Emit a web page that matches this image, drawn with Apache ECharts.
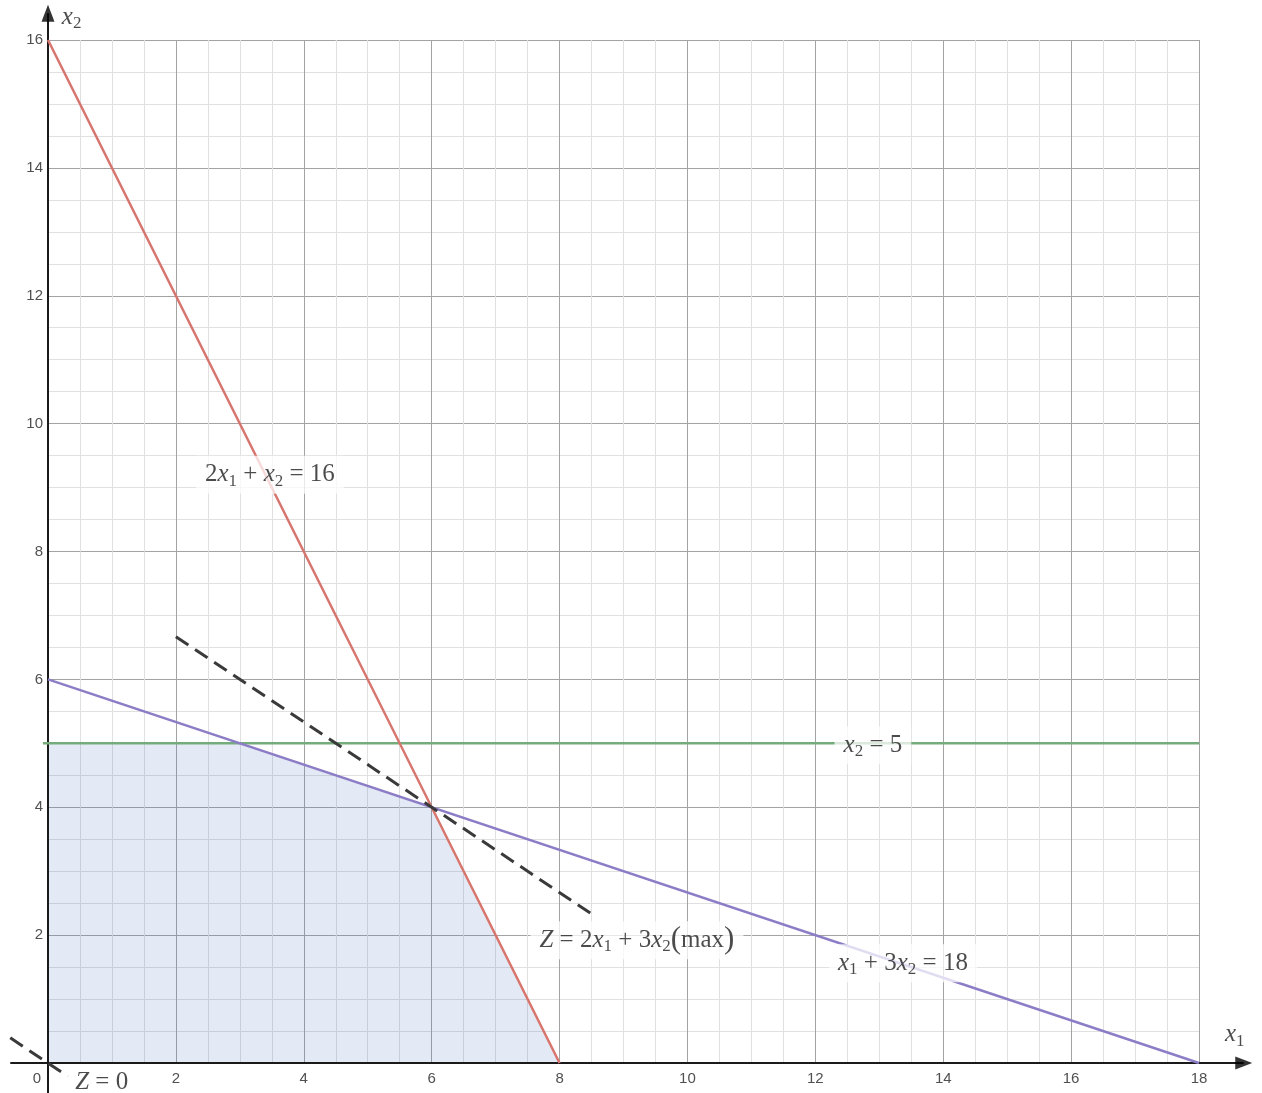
<!DOCTYPE html>
<html>
<head>
<meta charset="utf-8">
<script src="https://cdn.jsdelivr.net/npm/echarts@6/dist/echarts.min.js"></script>
<style>
html,body{margin:0;padding:0;background:#fff;}
#chart{width:1262px;height:1093px;}
</style>
</head>
<body>
<div id="chart"></div>
<script>
// ---- data ----
const xRange = [0, 18];
const yRange = [0, 16];
const tickStep = 2;
const constraint1 = [[0, 16], [8, 0]];          // 2x1 + x2 = 16
const constraint2 = [[0, 6], [18, 0]];          // x1 + 3x2 = 18
const constraint3 = [[-0.08, 5], [18, 5]];      // x2 = 5
const objectiveMax = [[2, 6.667], [8.55, 2.3]]; // 2x1 + 3x2 = 24
const objectiveZero = [[-0.59, 0.393], [0.31, -0.207]]; // 2x1 + 3x2 = 0
const feasible = [[0, 5], [3, 5], [6, 4], [8, 0]];

// ---- layout ----
const W = 1262, H = 1093;
const G = {left: 48, top: 40, width: 1151, height: 1023};
const kx = G.width / (xRange[1] - xRange[0]);
const ky = G.height / (yRange[1] - yRange[0]);
// full-canvas overlay grid with identical scale
const ovX = [xRange[0] - G.left / kx, xRange[0] + (W - G.left) / kx];
const ovY = [yRange[0] - (H - G.top - G.height) / ky, yRange[0] + (G.top + G.height) / ky];

const chart = echarts.init(document.getElementById('chart'));
const serif = "'Liberation Serif','DejaVu Serif',serif";
const txt = '#1e1e1e';
const rich = {
  n: {fontFamily: serif, fontSize: 25, color: txt, lineHeight: 30},
  i: {fontFamily: serif, fontSize: 25, fontStyle: 'italic', color: txt, lineHeight: 30},
  s: {fontFamily: serif, fontSize: 17, color: txt, lineHeight: 10, verticalAlign: 'bottom'},
  p: {fontFamily: serif, fontSize: 31, color: txt, lineHeight: 30}
};
function lbl(pos, text, bg) {
  return {
    value: pos,
    label: {
      show: true, position: 'inside', formatter: text, rich: rich,
      backgroundColor: bg ? 'rgba(255,255,255,0.92)' : 'transparent',
      padding: bg ? [4, 9, 4, 9] : 0
    }
  };
}
const tickFont = {fontFamily: "'Liberation Sans',Arial,sans-serif", fontSize: 15, color: '#505050'};

const option = {
  animation: false,
  backgroundColor: '#fff',
  grid: [
    {left: G.left, top: G.top, width: G.width, height: G.height, containLabel: false},
    {left: 0, top: 0, width: W, height: H, containLabel: false}
  ],
  xAxis: [{
    type: 'value', gridIndex: 0, min: xRange[0], max: xRange[1], interval: tickStep,
    axisLine: {show: false}, axisTick: {show: false},
    splitLine: {show: true, lineStyle: {color: '#a3a3a3', width: 1}},
    minorTick: {show: false, splitNumber: 4},
    minorSplitLine: {show: true, lineStyle: {color: '#e0e0e0', width: 1}},
    axisLabel: Object.assign({
      margin: 8,
      formatter: v => v === 0 ? '{z|0}' : String(v),
      rich: {z: Object.assign({padding: [0, 22, 0, 0]}, tickFont)}
    }, tickFont)
  }, {
    type: 'value', gridIndex: 1, min: ovX[0], max: ovX[1], show: false
  }],
  yAxis: [{
    type: 'value', gridIndex: 0, min: yRange[0], max: yRange[1], interval: tickStep,
    axisLine: {show: false}, axisTick: {show: false},
    splitLine: {show: true, lineStyle: {color: '#a3a3a3', width: 1}},
    minorTick: {show: false, splitNumber: 4},
    minorSplitLine: {show: true, lineStyle: {color: '#e0e0e0', width: 1}},
    axisLabel: Object.assign({
      margin: 5,
      formatter: v => v === 0 ? '' : String(v)
    }, tickFont)
  }, {
    type: 'value', gridIndex: 1, min: ovY[0], max: ovY[1], show: false
  }],
  series: [
    {
      type: 'line', data: feasible, symbol: 'none', z: 1,
      lineStyle: {width: 0, opacity: 0},
      areaStyle: {color: 'rgba(80,110,195,0.22)', origin: 'start'}
    },
    // axes lines (overlay grid)
    {
      type: 'line', xAxisIndex: 1, yAxisIndex: 1, data: [[-0.59, 0], [18.7, 0]], symbol: 'none', z: 3,
      lineStyle: {color: '#1a1a1a', width: 2}
    },
    {
      type: 'line', xAxisIndex: 1, yAxisIndex: 1, data: [[0, ovY[0]], [0, 16.42]], symbol: 'none', z: 3,
      lineStyle: {color: '#1a1a1a', width: 2}
    },
    {
      type: 'scatter', xAxisIndex: 1, yAxisIndex: 1, z: 3, symbol: 'triangle', symbolSize: [13, 17],
      itemStyle: {color: '#000'},
      data: [{value: [18.7, 0], symbolRotate: -90}, {value: [0, 16.42], symbolRotate: 0}]
    },
    {
      type: 'line', data: constraint3, symbol: 'none', xAxisIndex: 1, yAxisIndex: 1, z: 4,
      lineStyle: {color: '#74ad7b', width: 2.5}
    },
    {
      type: 'line', data: constraint2, symbol: 'none', z: 4,
      lineStyle: {color: '#8d7cc6', width: 2.5}
    },
    {
      type: 'line', data: constraint1, symbol: 'none', z: 4,
      lineStyle: {color: '#d8766e', width: 2.5}
    },
    {
      type: 'line', data: objectiveMax, symbol: 'none', z: 5,
      lineStyle: {color: '#3a3a3a', width: 3, type: [15, 8]}
    },
    {
      type: 'line', data: objectiveZero, symbol: 'none', xAxisIndex: 1, yAxisIndex: 1, z: 5,
      lineStyle: {color: '#3a3a3a', width: 3, type: [15, 8]}
    },
    {
      type: 'scatter', xAxisIndex: 1, yAxisIndex: 1, z: 10, symbolSize: 1,
      itemStyle: {color: 'rgba(0,0,0,0)'},
      data: [
        lbl([3.47, 9.2], '{n|2}{i|x}{s|1}{n| + }{i|x}{s|2}{n| = 16}', true),
        lbl([9.21, 1.92], '{i|Z}{n| = 2}{i|x}{s|1}{n| + 3}{i|x}{s|2}{p|(}{n|max}{p|)}', true),
        lbl([12.9, 4.97], '{i|x}{s|2}{n| = 5}', true),
        lbl([13.37, 1.56], '{i|x}{s|1}{n| + 3}{i|x}{s|2}{n| = 18}', true),
        lbl([0.84, -0.31], '{i|Z}{n| = 0}', false),
        lbl([0.37, 16.36], '{i|x}{s|2}', false),
        lbl([18.56, 0.44], '{i|x}{s|1}', false)
      ]
    }
  ]
};
chart.setOption(option);
</script>
</body>
</html>
